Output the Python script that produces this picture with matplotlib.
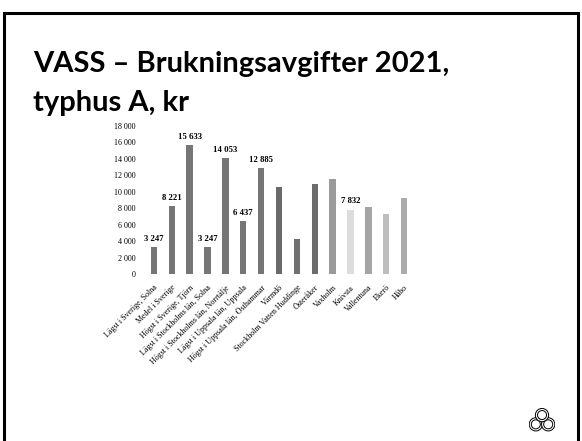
import numpy as np
import matplotlib.pyplot as plt
from matplotlib.patches import Rectangle, Circle

# data
categories = [
    'Lägst i Sverige, Solna', 'Medel i Sverige', 'Högst i Sverige, Tjörn',
    'Lägst i Stockholms län, Solna', 'Högst i Stockholms län, Norrtälje',
    'Lägst i Uppsala län, Uppsala', 'Högst i Uppsala län, Östhammar',
    'Värmdö', 'Stockholm Vatten Huddinge', 'Österåker', 'Vaxholm',
    'Knivsta', 'Vallentuna', 'Ekerö', 'Håbo',
]
values = [3247, 8221, 15633, 3247, 14053, 6437, 12885,
          10600, 4300, 11000, 11600, 7832, 8200, 7300, 9300]
show_label = [True] * 7 + [False] * 4 + [True] + [False] * 3
bar_colors = ['#767676'] * 7 + ['#6a6a6a', '#707070', '#6c6c6c', '#9a9a9a',
                                '#dcdcdc', '#a4a4a4', '#bdbdbd', '#ababab']
yticks = list(range(0, 18001, 2000))

W, H = 582, 441
fig = plt.figure(figsize=(W / 100, H / 100), dpi=100)
fig.patch.set_facecolor('white')

# slide frame
fig.add_artist(Rectangle((4 / W, -0.05), 574 / W, 1.05 - 13 / H,
                         transform=fig.transFigure, fill=False,
                         edgecolor='black', linewidth=2.2))

# title
fig.text(33 / W, 1 - 72 / H, 'VASS – Brukningsavgifter 2021,',
         fontsize=21, fontweight='bold', family='Lato', va='baseline')
fig.text(33 / W, 1 - 111 / H, 'typhus A, kr',
         fontsize=21, fontweight='bold', family='Lato', va='baseline')

ax = fig.add_axes([145 / W, 1 - 274 / H, 268 / W, 148 / H])
x = np.arange(len(values))
bars = ax.bar(x, values, width=0.36, color=bar_colors, linewidth=0)
for xi, v, show in zip(x, values, show_label):
    if show:
        ax.text(xi, v + 500, f'{v:,}'.replace(',', ' '), ha='center',
                va='bottom', fontsize=6.3, fontweight='bold',
                family='Liberation Serif')

ax.set_xlim(-0.5, len(values) - 0.5)
ax.set_ylim(0, 18000)
ax.set_yticks(yticks)
ax.set_yticklabels([f'{t:,}'.replace(',', ' ') for t in yticks],
                   fontsize=5.8, family='Liberation Serif')
ax.set_xticks(x)
ax.set_xticklabels(categories, rotation=45, ha='right', va='top',
                   rotation_mode='anchor', fontsize=5.8,
                   family='Liberation Serif')
ax.tick_params(axis='y', length=0, pad=7)
ax.tick_params(axis='x', length=0, pad=7)
for s in ax.spines.values():
    s.set_visible(False)

# logo, bottom right
lax = fig.add_axes([529 / W, 1 - 434 / H, 26 / W, 28 / H])
lax.set_aspect('equal')
for cx, cy in [(-0.5, -0.3), (0.5, -0.3), (0.0, 0.45)]:
    lax.add_patch(Circle((cx, cy), 0.45, fill=False, lw=2.2, color='black'))
    lax.add_patch(Circle((cx, cy), 0.45, fill=False, lw=0.8, color='white'))
lax.set_xlim(-1.05, 1.05)
lax.set_ylim(-0.9, 1.0)
lax.axis('off')

fig.savefig('out.png', dpi=100)
